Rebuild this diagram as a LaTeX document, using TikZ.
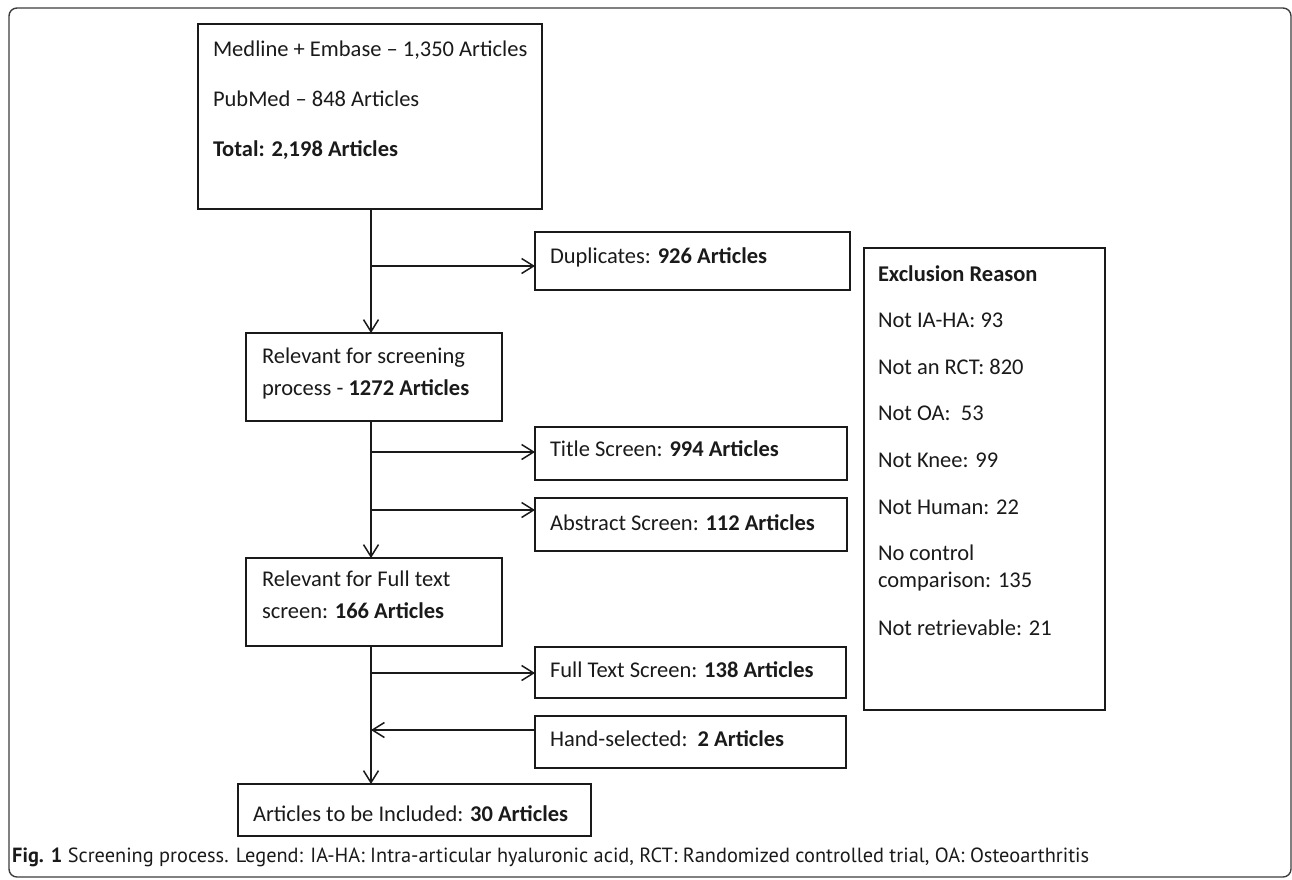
\documentclass[tikz,border=0pt]{standalone}
\usepackage{fontspec}
\setmainfont{Carlito}
\newfontfamily\capfont{PT Sans}
\usepackage{graphicx}
\usetikzlibrary{arrows.meta}
\newsavebox\capbox
\definecolor{ink}{HTML}{1A1A1A}
\tikzset{
  box/.style={draw=ink, line width=1.4pt, inner sep=0pt, outer sep=0pt, anchor=north west},
  txt/.style={inner sep=0pt, outer sep=0pt, anchor=base west, text=ink, font=\fontsize{22.5}{27}\selectfont},
  flow/.style={draw=ink, line width=1.5pt, -{Straight Barb[length=12pt,width=15pt,line width=1.5pt]}},
  frame/.style={draw=ink!85, line width=1.4pt, rounded corners=8pt},
}
\begin{document}
\begin{tikzpicture}[x=1pt,y=-1pt]
\useasboundingbox (0,0) rectangle (1292,879);
\draw[frame] (9,8) rectangle (1291,877);

% boxes
\node[box, minimum width=344pt, minimum height=185pt] (b1) at (198,24) {};
\node[box, minimum width=315pt, minimum height=58pt] (dup) at (535,232) {};
\node[box, minimum width=256pt, minimum height=88pt] (b2) at (246,333) {};
\node[box, minimum width=312pt, minimum height=53pt] (tit) at (535,427) {};
\node[box, minimum width=312pt, minimum height=53pt] (abs) at (535,498) {};
\node[box, minimum width=256pt, minimum height=88pt] (b3) at (246,558) {};
\node[box, minimum width=311pt, minimum height=51pt] (full) at (535,647) {};
\node[box, minimum width=311pt, minimum height=52pt] (hand) at (535,716) {};
\node[box, minimum width=353pt, minimum height=52pt] (b4) at (238,784) {};
\node[box, minimum width=241pt, minimum height=462pt] (excl) at (864,248) {};

% texts
\node[txt] (t1a) at (213,56) {Medline + Embase -- 1,350 Articles};
\node[txt] (t1b) at (213,106) {PubMed -- 848 Articles};
\node[txt] (t1c) at (213,156) {\textbf{Total: 2,198 Articles}};
\node[txt] (tdup) at (550,263) {Duplicates: \textbf{926 Articles}};
\node[txt] (t2a) at (262,363) {Relevant for screening};
\node[txt] (t2b) at (262,395) {process - \textbf{1272 Articles}};
\node[txt] (ttit) at (550,456) {Title Screen: \textbf{994 Articles}};
\node[txt] (tabs) at (550,530) {Abstract Screen: \textbf{112 Articles}};
\node[txt] (t3a) at (262,586) {Relevant for Full text};
\node[txt] (t3b) at (262,618) {screen: \textbf{166 Articles}};
\node[txt] (tfull) at (550,677) {Full Text Screen: \textbf{138 Articles}};
\node[txt] (thand) at (550,746) {Hand-selected:\ \ \textbf{2 Articles}};
\node[txt] (t4) at (253,821) {Articles to be Included: \textbf{30 Articles}};

\node[txt] (e0) at (878,281) {\textbf{Exclusion Reason}};
\node[txt] (e1) at (878,327) {Not IA-HA: 93};
\node[txt] (e2) at (878,374) {Not an RCT: 820};
\node[txt] (e3) at (878,420) {Not OA:\ \ 53};
\node[txt] (e4) at (878,467) {Not Knee: 99};
\node[txt] (e5) at (878,514) {Not Human: 22};
\node[txt] (e6) at (878,560) {No control};
\node[txt] (e7) at (878,587) {comparison: 135};
\node[txt] (e8) at (878,635) {Not retrievable: 21};

% caption
\node[inner sep=0pt, anchor=base west, text=ink] (cap) at (12,862) {%
  \sbox\capbox{\capfont\fontsize{20.5}{22}\selectfont\textbf{Fig. 1} Screening process. Legend: IA-HA: Intra-articular hyaluronic acid, RCT: Randomized controlled trial, OA: Osteoarthritis}%
  \pgfmathsetmacro\capscale{1077/\wd\capbox}%
  \scalebox{\capscale}[1]{\usebox\capbox}};

% connectors
\coordinate (T) at (371,0);
\coordinate (ydup) at (0,266);
\coordinate (ytit) at (0,452);
\coordinate (yabs) at (0,510);
\coordinate (yfull) at (0,673);
\coordinate (yhand) at (0,730);

\draw[flow] (b1.south -| T) -- (b2.north -| T);
\draw[flow] (b2.south -| T) -- (b3.north -| T);
\draw[flow] (b3.south -| T) -- (b4.north -| T);
\draw[flow] (ydup -| T) -- (ydup -| dup.west);
\draw[flow] (ytit -| T) -- (ytit -| tit.west);
\draw[flow] (yabs -| T) -- (yabs -| abs.west);
\draw[flow] (yfull -| T) -- (yfull -| full.west);
\draw[flow] (yhand -| hand.west) -- (yhand -| T);
\end{tikzpicture}
\end{document}
